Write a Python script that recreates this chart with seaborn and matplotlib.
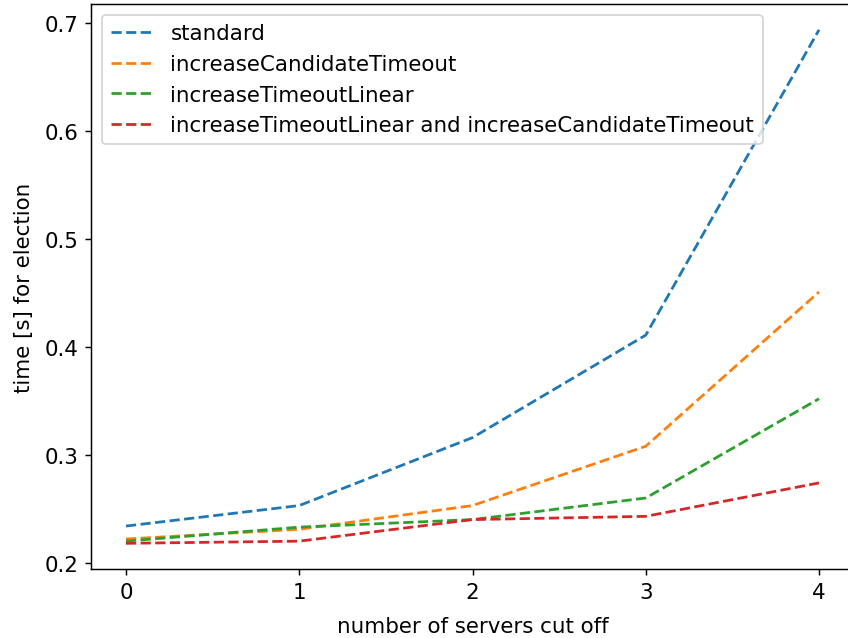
import matplotlib
matplotlib.use("Agg")
import matplotlib.pyplot as plt
import seaborn as sns
import pandas as pd

servers_cut_off = [0, 1, 2, 3, 4]
standard = [0.234, 0.253, 0.316, 0.411, 0.694]
increase_candidate_timeout = [0.222, 0.231, 0.253, 0.308, 0.451]
increase_timeout_linear = [0.220, 0.233, 0.240, 0.260, 0.352]
both_strategies = [0.218, 0.220, 0.240, 0.243, 0.274]

series_names = [
    "standard",
    "increaseCandidateTimeout",
    "increaseTimeoutLinear",
    "increaseTimeoutLinear and increaseCandidateTimeout",
]
series_values = [standard, increase_candidate_timeout, increase_timeout_linear, both_strategies]

frames = []
for name, vals in zip(series_names, series_values):
    frames.append(pd.DataFrame({"servers": servers_cut_off, "time": vals, "strategy": name}))
df = pd.concat(frames, ignore_index=True)

plt.rcParams["font.size"] = 11.6

fig = plt.figure(figsize=(6.4, 4.8226), dpi=132.5)
ax = fig.add_axes([0.1077, 0.108, 0.899, 0.884])

palette = ["#1f77b4", "#ff7f0e", "#2ca02c", "#d62728"]
sns.lineplot(data=df, x="servers", y="time", hue="strategy", hue_order=series_names,
             palette=palette, linestyle="--", ax=ax)

ax.set_xlabel("number of servers cut off", labelpad=7.5)
ax.set_ylabel("time [s] for election", labelpad=6)
ax.set_xticks(servers_cut_off)
ax.set_yticks([0.2, 0.3, 0.4, 0.5, 0.6, 0.7])
ax.legend(loc="upper left")

fig.savefig("out.png", dpi=132.5)
